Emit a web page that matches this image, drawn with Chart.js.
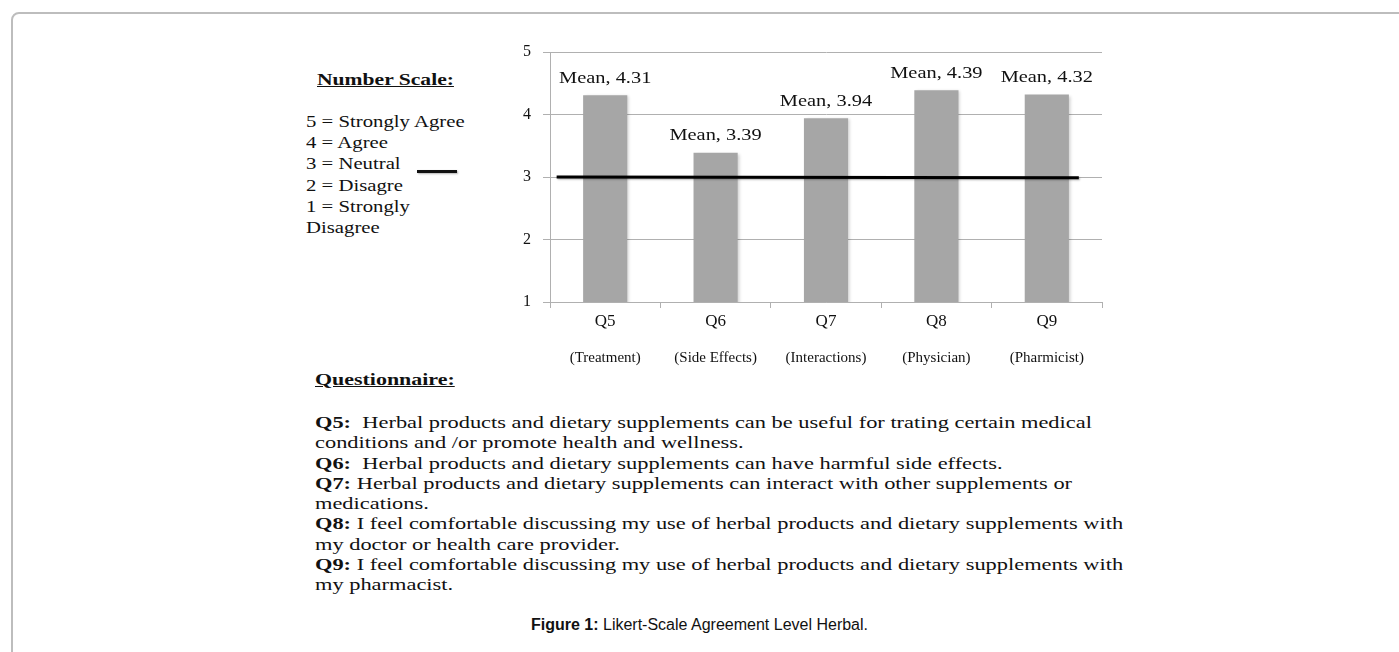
<!DOCTYPE html>
<html>
<head>
<meta charset="utf-8">
<script src="https://cdn.jsdelivr.net/npm/chart.js@4.4.1/dist/chart.umd.min.js"></script>
<style>
  body { margin: 0; background: #fff; width: 1399px; height: 652px; overflow: hidden; position: relative; }
  .card { position: absolute; left: 11px; top: 12px; width: 1420px; height: 700px; border: 2px solid #bdbdbd; border-radius: 8px; box-sizing: border-box; }
  .serif { font-family: "Liberation Serif", "Times New Roman", serif; color: #111; transform-origin: 0 50%; }
  .head { position: absolute; font-weight: bold; text-decoration: underline; font-size: 17px; line-height: 20px; white-space: pre; }
  .block { position: absolute; font-size: 17px; }
  .block div { transform-origin: 0 50%; white-space: pre; }
  #scale { left: 306px; top: 111px; line-height: 21.2px; }
  #scale div { transform: scaleX(1.22); }
  #quest { left: 315px; top: 412px; line-height: 20.25px; font-size: 17.5px; }
  #quest div { transform: scaleX(1.28); }
  #neutral { position: absolute; left: 417px; top: 170px; width: 40px; height: 3px; background: #111; box-shadow: 1px 1px 2px rgba(0,0,0,0.3); }
  #wrap { position: absolute; left: 480px; top: 30px; width: 640px; height: 350px; }
  #caption { position: absolute; left: 0; width: 1399px; top: 616px; text-align: center; font-family: "Liberation Sans", Arial, sans-serif; font-size: 16px; color: #111; }
</style>
</head>
<body>
<div class="card"></div>
<div class="head serif" style="left:317px; top:70px; transform:scaleX(1.27);">Number Scale:</div>
<div id="scale" class="block serif"><div>5 = Strongly Agree</div><div>4 = Agree</div><div>3 = Neutral</div><div>2 = Disagre</div><div>1 = Strongly</div><div>Disagree</div></div>
<div id="neutral"></div>
<div class="head serif" style="left:315px; top:370px; transform:scaleX(1.29);">Questionnaire:</div>
<div id="quest" class="block serif"><div><b>Q5:</b>  Herbal products and dietary supplements can be useful for trating certain medical</div><div>conditions and /or promote health and wellness.</div><div><b>Q6:</b>  Herbal products and dietary supplements can have harmful side effects.</div><div><b>Q7:</b> Herbal products and dietary supplements can interact with other supplements or</div><div>medications.</div><div><b>Q8:</b> I feel comfortable discussing my use of herbal products and dietary supplements with</div><div>my doctor or health care provider.</div><div><b>Q9:</b> I feel comfortable discussing my use of herbal products and dietary supplements with</div><div>my pharmacist.</div></div>
<div id="wrap"><canvas id="chart"></canvas></div>
<div id="caption"><b>Figure 1:</b> Likert-Scale Agreement Level Herbal.</div>

<script>
const categories = ["Q5", "Q6", "Q7", "Q8", "Q9"];
const subLabels = ["(Treatment)", "(Side Effects)", "(Interactions)", "(Physician)", "(Pharmicist)"];
const meanValues = [4.31, 3.39, 3.94, 4.39, 4.32];
const yTicks = [1, 2, 3, 4, 5];
// neutral reference line, in category units along the bars
const neutralLine = [{ x: -0.44, y: 3.0 }, { x: 4.29, y: 2.99 }];

const serif = "'Liberation Serif', 'Times New Roman', serif";
const gridGray = "#b0b0b0";

// soft shadow behind the bars and the line
const markShadow = {
  id: "markShadow",
  beforeDatasetDraw(chart, args) {
    const ctx = chart.ctx;
    ctx.save();
    if (args.index === 1) {
      ctx.shadowColor = "rgba(0,0,0,0.18)";
      ctx.shadowBlur = 3;
      ctx.shadowOffsetX = 2;
      ctx.shadowOffsetY = 1;
    } else {
      ctx.shadowColor = "rgba(0,0,0,0.3)";
      ctx.shadowBlur = 2;
      ctx.shadowOffsetX = 1;
      ctx.shadowOffsetY = 1;
    }
  },
  afterDatasetDraw(chart) {
    chart.ctx.restore();
  },
};

// "Mean, x.xx" above each bar
const meanLabels = {
  id: "meanLabels",
  afterDatasetsDraw(chart) {
    const ctx = chart.ctx;
    const bars = chart.getDatasetMeta(1).data;
    ctx.save();
    ctx.fillStyle = "#111";
    ctx.font = "17px " + serif;
    ctx.textAlign = "center";
    ctx.textBaseline = "middle";
    bars.forEach((bar, i) => {
      ctx.save();
      ctx.translate(bar.x, bar.y - 17);
      ctx.scale(1.2, 1);
      ctx.fillText("Mean, " + meanValues[i].toFixed(2), 0, 0);
      ctx.restore();
    });
    ctx.restore();
  },
};

new Chart(document.getElementById("chart"), {
  data: {
    labels: categories,
    datasets: [
      {
        type: "line",
        data: neutralLine,
        xAxisID: "xl",
        borderColor: "#000",
        borderWidth: 3,
        pointRadius: 0,
        order: 0,
      },
      {
        type: "bar",
        data: meanValues,
        backgroundColor: "#a6a6a6",
        borderWidth: 0,
        grouped: false,
        barPercentage: 0.4,
        categoryPercentage: 1,
        order: 1,
      },
    ],
  },
  options: {
    responsive: true,
    maintainAspectRatio: false,
    animation: false,
    layout: { padding: { top: 22, right: 18, left: 0, bottom: 0 } },
    plugins: {
      legend: { display: false },
      tooltip: { enabled: false },
    },
    scales: {
      y: {
        min: 1,
        max: 5,
        afterBuildTicks: (scale) => {
          scale.ticks = yTicks.map((v) => ({ value: v }));
        },
        afterFit: (scale) => { scale.width = 70; },
        grid: { color: gridGray, tickLength: 7 },
        border: { color: gridGray },
        ticks: { color: "#111", padding: 12, font: { family: serif, size: 16 } },
      },
      x: {
        weight: 0,
        offset: true,
        afterFit: (scale) => { scale.height = 34; },
        grid: { drawOnChartArea: false, tickLength: 6, color: gridGray, offset: true },
        border: { color: gridGray },
        ticks: { color: "#111", padding: 3, font: { family: serif, size: 17 } },
      },
      x2: {
        type: "category",
        position: "bottom",
        weight: 1,
        offset: true,
        labels: subLabels,
        afterFit: (scale) => { scale.height = 44; },
        grid: { display: false },
        border: { display: false },
        ticks: { color: "#111", padding: 5, font: { family: serif, size: 15 } },
      },
      xl: {
        type: "linear",
        display: false,
        min: -0.5,
        max: 4.5,
      },
    },
  },
  plugins: [markShadow, meanLabels],
});
</script>
</body>
</html>
